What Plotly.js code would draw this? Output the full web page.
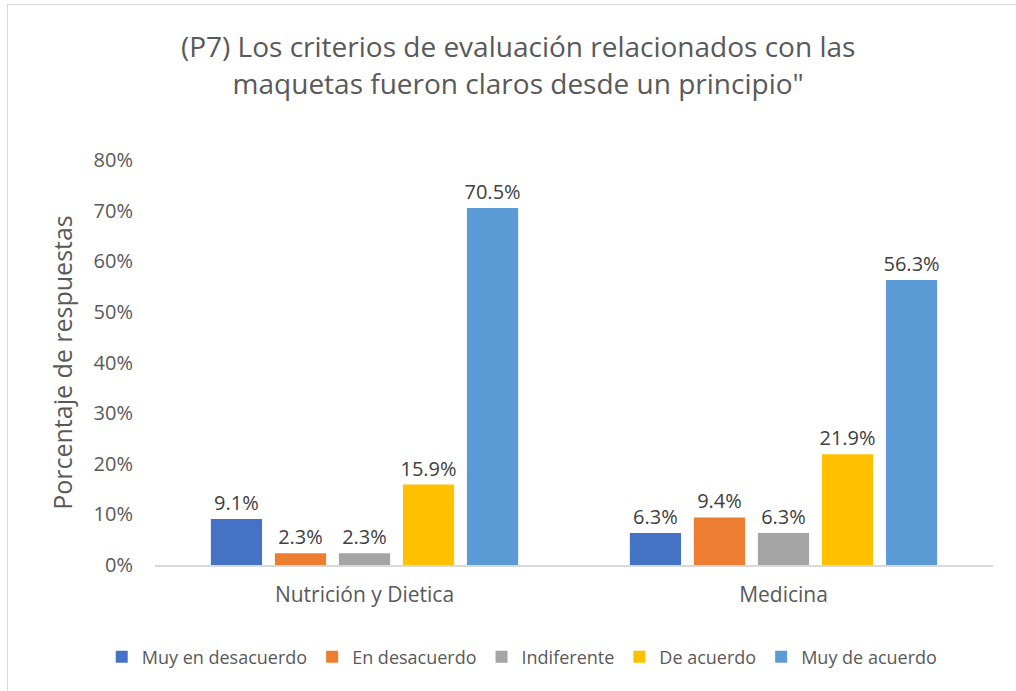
<!DOCTYPE html>
<html>
<head>
<meta charset="utf-8">
<script src="https://cdn.plot.ly/plotly-3.0.1.min.js"></script>
<style>
html,body{margin:0;padding:0;background:#fff;overflow:hidden;width:1016px;height:691px;}
#chart{width:1016px;height:691px;}
#frame{position:absolute;left:7px;top:4px;width:1200px;height:800px;border-left:1.5px solid #d9d9d9;border-top:1.5px solid #d9d9d9;pointer-events:none;}
</style>
</head>
<body>
<div id="chart"></div>
<div id="frame"></div>
<script>
const categories = ["Nutrición y Dietica", "Medicina"];
const seriesNames = ["Muy en desacuerdo", "En desacuerdo", "Indiferente", "De acuerdo", "Muy de acuerdo"];
const muyEnDesacuerdo = [9.1, 6.3];
const enDesacuerdo = [2.3, 9.4];
const indiferente = [2.3, 6.3];
const deAcuerdo = [15.9, 21.9];
const muyDeAcuerdo = [70.5, 56.3];
const yTickVals = [0, 10, 20, 30, 40, 50, 60, 70, 80];
const colors = ["#4472C4", "#ED7D31", "#A5A5A5", "#FFC000", "#5B9BD5"];

const FONT = "Open Sans, Noto Sans, sans-serif";
const seriesValues = [muyEnDesacuerdo, enDesacuerdo, indiferente, deAcuerdo, muyDeAcuerdo];
const traces = seriesValues.map((vals, i) => ({
  type: "bar",
  name: seriesNames[i],
  x: categories,
  y: vals,
  marker: {color: colors[i]},
  text: vals.map(v => v.toFixed(1) + "%"),
  textposition: "outside",
  constraintext: "none",
  cliponaxis: false,
  textfont: {family: FONT, size: 20, color: "#404040"},
  hoverinfo: "skip"
}));

const layout = {
  width: 1016, height: 691,
  paper_bgcolor: "#fff", plot_bgcolor: "#fff",
  margin: {l: 155, r: 23, t: 160, b: 126},
  font: {family: FONT, color: "#595959"},
  title: {
    text: "(P7) Los criterios de evaluación relacionados con las<br>maquetas fueron claros desde un principio\"",
    font: {family: FONT, size: 28, color: "#595959"},
    x: 0.51, xref: "container", xanchor: "center",
    y: 0.917, yref: "container", yanchor: "middle"
  },
  barmode: "group",
  bargap: 0.236,
  bargroupgap: 0.2,
  xaxis: {
    showline: true, linecolor: "#d9d9d9", linewidth: 1.5,
    ticks: "", tickfont: {family: FONT, size: 21, color: "#595959"},
    ticklabelstandoff: 10,
    showgrid: false, zeroline: false, fixedrange: true
  },
  yaxis: {
    range: [0, 80], tickvals: yTickVals, ticktext: yTickVals.map(v => v + "%"),
    showgrid: false, zeroline: false, showline: false, ticks: "",
    tickfont: {family: FONT, size: 20, color: "#595959"},
    ticklabelstandoff: 21,
    title: {text: "Porcentaje de respuestas", font: {family: FONT, size: 25, color: "#595959"}, standoff: 13},
    fixedrange: true
  },
  showlegend: true,
  legend: {
    orientation: "h", x: 0.514, xref: "container", xanchor: "center",
    y: 0.049, yref: "container", yanchor: "middle",
    font: {family: FONT, size: 18, color: "#595959"},
    itemwidth: 30, traceorder: "normal"
  }
};

Plotly.newPlot("chart", traces, layout, {displayModeBar: false, staticPlot: true});
</script>
</body>
</html>
